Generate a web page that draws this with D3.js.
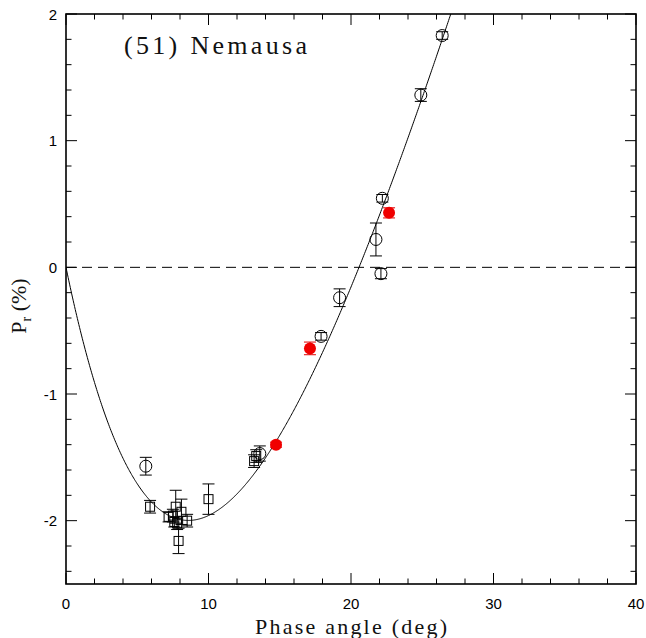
<!DOCTYPE html>
<html>
<head>
<meta charset="utf-8">
<script src="https://cdn.jsdelivr.net/npm/d3@7"></script>
<style>
  html, body { margin: 0; padding: 0; background: #fff; }
  svg { display: block; }
</style>
</head>
<body>
<svg id="chart" width="646" height="638"></svg>
<script>
// Polarimetric phase curve of (51) Nemausa

// Open circles
const circX   = [5.6, 13.6, 17.9, 19.2, 21.75, 22.1, 22.2, 24.9, 26.4];
const circY   = [-1.57, -1.47, -0.545, -0.24, 0.22, -0.05, 0.545, 1.36, 1.83];
const circErr = [0.07, 0.06, 0.03, 0.07, 0.13, 0.04, 0.03, 0.05, 0.03];

// Open squares
const sqX   = [5.9, 7.2, 7.5, 7.7, 7.6, 7.8, 8.1, 8.5, 7.9, 10.0, 13.2, 13.35];
const sqY   = [-1.89, -1.97, -1.96, -1.89, -2.01, -2.02, -1.93, -2.0, -2.16, -1.83, -1.53, -1.49];
const sqErr = [0.05, 0.04, 0.05, 0.13, 0.04, 0.05, 0.10, 0.05, 0.10, 0.12, 0.05, 0.05];

// Filled red circles
const redX   = [14.74, 17.12, 22.67];
const redY   = [-1.40, -0.64, 0.43];
const redErr = [0.02, 0.05, 0.04];

// Linear-exponential fit: P = A (exp(-a/d) - 1) + k a
const fitA = 9.42, fitD = 10.0, fitK = 0.3995;

const xTicks = [0, 10, 20, 30, 40];
const yTicks = [-2, -1, 0, 1, 2];

const svg = d3.select("#chart");
const L = 66, R = 636, T = 14, B = 584;

const x = d3.scaleLinear().domain([0, 40]).range([L, R]);
const y = d3.scaleLinear().domain([-2.5, 2]).range([B, T]);

svg.append("defs").append("clipPath").attr("id", "plotclip")
  .append("rect").attr("x", L).attr("y", T).attr("width", R - L).attr("height", B - T);

// Zero line
svg.append("line")
  .attr("x1", x(0)).attr("x2", x(40))
  .attr("y1", y(0)).attr("y2", y(0))
  .attr("stroke", "#000").attr("stroke-width", 1)
  .attr("stroke-dasharray", "10,6");

// Fit curve
const fitPts = d3.range(0, 28.001, 0.05).map(a => [a, fitA * (Math.exp(-a / fitD) - 1) + fitK * a]);
svg.append("path")
  .attr("clip-path", "url(#plotclip)")
  .attr("d", d3.line().x(d => x(d[0])).y(d => y(d[1]))(fitPts))
  .attr("fill", "none").attr("stroke", "#000").attr("stroke-width", 1);

// Error bars
function errBars(xs, ys, es, color) {
  const g = svg.append("g").attr("stroke", color).attr("stroke-width", 1).attr("fill", "none");
  xs.forEach((xv, i) => {
    const cx = x(xv), y1 = y(ys[i] + es[i]), y2 = y(ys[i] - es[i]);
    g.append("line").attr("x1", cx).attr("x2", cx).attr("y1", y1).attr("y2", y2);
    g.append("line").attr("x1", cx - 6).attr("x2", cx + 6).attr("y1", y1).attr("y2", y1);
    g.append("line").attr("x1", cx - 6).attr("x2", cx + 6).attr("y1", y2).attr("y2", y2);
  });
}
errBars(sqX, sqY, sqErr, "#000");
errBars(circX, circY, circErr, "#000");
errBars(redX, redY, redErr, "#e00000");

// Squares
svg.append("g").selectAll("rect").data(sqX).join("rect")
  .attr("x", (d) => x(d) - 4.5)
  .attr("y", (d, i) => y(sqY[i]) - 4.5)
  .attr("width", 9).attr("height", 9)
  .attr("fill", "none").attr("stroke", "#000").attr("stroke-width", 1);

// Open circles
svg.append("g").selectAll("circle").data(circX).join("circle")
  .attr("cx", d => x(d))
  .attr("cy", (d, i) => y(circY[i]))
  .attr("r", 6)
  .attr("fill", "none").attr("stroke", "#000").attr("stroke-width", 1);

// Filled red circles
svg.append("g").selectAll("circle").data(redX).join("circle")
  .attr("cx", d => x(d))
  .attr("cy", (d, i) => y(redY[i]))
  .attr("r", 6)
  .attr("fill", "#f00000").attr("stroke", "none");

// Frame and inward ticks on all four sides
const frame = svg.append("g").attr("stroke", "#000");
frame.append("rect").attr("x", L).attr("y", T).attr("width", R - L).attr("height", B - T)
  .attr("fill", "none").attr("stroke-width", 1.6);

const xMinor = d3.range(0, 40.001, 2);
const yMinor = d3.range(-2.4, 2.001, 0.2).map(v => Math.round(v * 10) / 10);
xMinor.forEach(v => {
  const len = (v % 10 === 0) ? 11 : 5.5;
  frame.append("line").attr("x1", x(v)).attr("x2", x(v)).attr("y1", B).attr("y2", B - len).attr("stroke-width", 1);
  frame.append("line").attr("x1", x(v)).attr("x2", x(v)).attr("y1", T).attr("y2", T + len).attr("stroke-width", 1);
});
yMinor.forEach(v => {
  const len = (Math.abs(v - Math.round(v)) < 1e-6) ? 11 : 5.5;
  frame.append("line").attr("y1", y(v)).attr("y2", y(v)).attr("x1", L).attr("x2", L + len).attr("stroke-width", 1);
  frame.append("line").attr("y1", y(v)).attr("y2", y(v)).attr("x1", R).attr("x2", R - len).attr("stroke-width", 1);
});

// Tick labels
const sans = "'Liberation Sans', Arial, sans-serif";
svg.append("g").selectAll("text").data(xTicks).join("text")
  .attr("x", d => x(d)).attr("y", B + 25)
  .attr("text-anchor", "middle")
  .attr("font-family", sans).attr("font-size", 15)
  .text(d => d);
svg.append("g").selectAll("text").data(yTicks).join("text")
  .attr("x", L - 9).attr("y", d => y(d) + 5.5)
  .attr("text-anchor", "end")
  .attr("font-family", sans).attr("font-size", 15)
  .text(d => d);

// Axis titles
const serif = "'Liberation Serif', 'Times New Roman', serif";
svg.append("text")
  .attr("x", x(20)).attr("y", 634)
  .attr("text-anchor", "middle")
  .attr("font-family", serif).attr("font-size", 22).attr("fill", "#111")
  .attr("textLength", 192).attr("lengthAdjust", "spacing")
  .text("Phase angle (deg)");

const yl = svg.append("text")
  .attr("transform", "translate(26," + 306 + ") rotate(-90)")
  .attr("text-anchor", "middle")
  .attr("font-family", serif).attr("font-size", 22).attr("fill", "#111");
yl.append("tspan").text("P");
yl.append("tspan").attr("font-size", 14).attr("dy", 5).text("r");
yl.append("tspan").attr("dy", -5).text("  (%)");

// Object name
svg.append("text")
  .attr("x", 124).attr("y", 54)
  .attr("font-family", serif).attr("font-size", 26).attr("fill", "#111")
  .attr("textLength", 183).attr("lengthAdjust", "spacing")
  .text("(51)  Nemausa");
</script>
</body>
</html>
